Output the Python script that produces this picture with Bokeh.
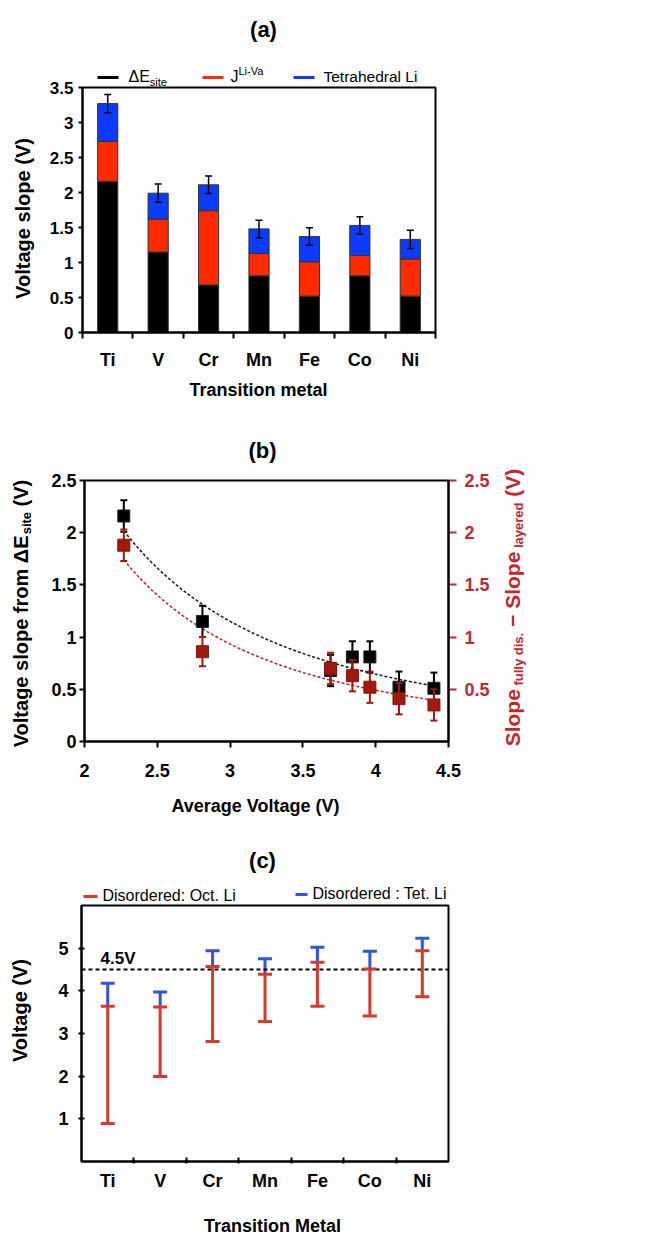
import numpy as np
from bokeh.plotting import figure
from bokeh.layouts import column
from bokeh.models import (Label, BoxAnnotation, FixedTicker, NumeralTickFormatter,
                          LinearAxis, Range1d)
from bokeh.embed import file_html
from bokeh.resources import INLINE

# ---------------- data ----------------
metals = ["Ti", "V", "Cr", "Mn", "Fe", "Co", "Ni"]
# panel (a): stacked contributions to the voltage slope (V)
dE_site = [2.16, 1.15, 0.68, 0.81, 0.52, 0.81, 0.52]
J_liva = [0.57, 0.47, 1.06, 0.32, 0.49, 0.29, 0.53]
tet_li = [0.54, 0.37, 0.37, 0.35, 0.36, 0.43, 0.28]
err_a = [0.13, 0.13, 0.125, 0.125, 0.125, 0.125, 0.13]
yticks_a = [0, 0.5, 1, 1.5, 2, 2.5, 3, 3.5]

# panel (b)
avg_voltage = [2.27, 2.81, 3.69, 3.84, 3.96, 4.16, 4.40]
slope_dE = [2.16, 1.15, 0.68, 0.81, 0.81, 0.52, 0.51]
slope_diff = [1.88, 0.86, 0.70, 0.63, 0.52, 0.41, 0.35]
err_b_black = [0.15, 0.15, 0.15, 0.15, 0.15, 0.15, 0.15]
err_b_red = [0.15, 0.14, 0.15, 0.15, 0.15, 0.15, 0.15]
xticks_b = [2, 2.5, 3, 3.5, 4, 4.5]
yticks_b = [0, 0.5, 1, 1.5, 2, 2.5]
yticks_b_right = [0.5, 1, 1.5, 2, 2.5]

# panel (c): voltage ranges (V)
oct_low = [0.89, 1.99, 2.81, 3.28, 3.64, 3.41, 3.86]
oct_high = [3.64, 3.62, 4.57, 4.39, 4.67, 4.51, 4.94]
tet_high = [4.18, 3.97, 4.94, 4.75, 5.02, 4.93, 5.23]
yticks_c = [1, 2, 3, 4, 5]
limit_c = 4.5

# ---------------- helpers ----------------
FONT = "Liberation Sans"
W = 651
BW = {' ': .278, '(': .333, ')': .333, '.': .278, '-': .333, ':': .333, '−': .584,
      'A': .722, 'D': .722, 'E': .667, 'J': .556, 'L': .611, 'M': .833, 'O': .778,
      'S': .667, 'T': .611, 'V': .667, 'a': .556, 'c': .556, 'd': .611, 'e': .556,
      'f': .333, 'g': .611, 'h': .611, 'i': .278, 'l': .278, 'm': .889, 'n': .611,
      'o': .611, 'p': .611, 'r': .389, 's': .556, 't': .333, 'u': .611, 'v': .556,
      'y': .556, 'Δ': .70}
RW = {' ': .278, '(': .333, ')': .333, '.': .278, '-': .333, ':': .278, 'D': .722,
      'E': .667, 'J': .5, 'L': .556, 'O': .778, 'T': .611, 'V': .667, 'a': .556,
      'c': .5, 'd': .556, 'e': .556, 'h': .556, 'i': .222, 'l': .222, 'r': .333,
      's': .5, 't': .278, 'Δ': .668}
BASE_FIX = 0.3   # renderer draws "alphabetic" text about 0.3 em lower than asked


def tw(s, size, bold):
    t = BW if bold else RW
    return sum(t.get(c, .556) for c in s) * size


def span_range(d0, d1, p0, p1, total):
    """range whose values d0..d1 land on pixels p0..p1 of a canvas 'total' long"""
    k = (p1 - p0) / (d1 - d0)
    return Range1d(d0 - p0 / k, d0 + (total - p0) / k)


class Panel:
    def __init__(self, top, height, box, xlim, ylim):
        self.T, self.H = top, height
        left, right, btop, bbot = box
        xr = span_range(xlim[0], xlim[1], left, right, W)
        yr = span_range(ylim[0], ylim[1], top + height - bbot, top + height - btop, height)
        self.yr = yr
        p = figure(width=W, height=height, x_range=xr, y_range=yr, output_backend="svg",
                   toolbar_location=None, x_axis_location=None, y_axis_location=None,
                   min_border=0, min_border_left=0, min_border_right=0,
                   min_border_top=0, min_border_bottom=0)
        p.outline_line_color = None
        p.grid.visible = False
        p.background_fill_color = "white"
        p.border_fill_color = "white"
        p.add_layout(BoxAnnotation(left=xlim[0], right=xlim[1], bottom=ylim[0], top=ylim[1],
                                   fill_alpha=0, fill_color=None, line_color="black",
                                   line_width=2, line_alpha=1, level="overlay"))
        self.p = p

    def put(self, px, py, text, size, bold=True, color="black", angle=0, align="left"):
        if angle:
            px -= BASE_FIX * size
        else:
            py -= BASE_FIX * size
        self.p.add_layout(Label(x=px, y=self.T + self.H - py, x_units="screen", y_units="screen",
                                text=text, text_font=FONT, text_font_size=f"{size}px",
                                text_font_style="bold" if bold else "normal", text_color=color,
                                angle=angle, text_align=align, text_baseline="alphabetic"))

    def put_h(self, x0, base, pieces, bold, color="black"):
        x = x0
        for txt, size, shift in pieces:
            lead = len(txt) - len(txt.lstrip(' '))
            self.put(x + tw(' ' * lead, size, bold), base + shift, txt.strip(' '), size, bold, color)
            x += tw(txt, size, bold)

    def put_v(self, basex, ycenter, pieces, bold, color="black"):
        total = sum(tw(t, s, bold) for t, s, _ in pieces)
        y = ycenter + total / 2
        for txt, size, shift in pieces:
            lead = len(txt) - len(txt.lstrip(' '))
            self.put(basex + shift, y - tw(' ' * lead, size, bold), txt.strip(' '), size, bold,
                     color, angle=np.pi / 2)
            y -= tw(txt, size, bold)

    def bar(self, x0, x1, yc, color, th=3):
        b = self.T + self.H
        self.p.add_layout(BoxAnnotation(left=x0, right=x1, top=b - yc + th / 2, bottom=b - yc - th / 2,
                                        left_units="screen", right_units="screen",
                                        top_units="screen", bottom_units="screen",
                                        fill_color=color, fill_alpha=1, line_alpha=0,
                                        level="overlay"))

    def axis(self, side, loc, bounds, ticks, minor=None, overrides=None, fmt="0.[0]", size=18,
             color="black", line_color="black", t_in=0, t_out=0, m_in=0, m_out=0, standoff=8,
             y_range_name=None):
        kw = {}
        if y_range_name:
            kw["y_range_name"] = y_range_name
        ax = LinearAxis(fixed_location=loc, bounds=bounds, **kw)
        ax.ticker = FixedTicker(ticks=ticks, minor_ticks=minor or [])
        if overrides:
            ax.major_label_overrides = overrides
        else:
            ax.formatter = NumeralTickFormatter(format=fmt)
        ax.axis_line_width = 2
        ax.axis_line_color = line_color
        ax.major_tick_line_width = 2
        ax.major_tick_line_color = color
        ax.minor_tick_line_width = 2
        ax.minor_tick_line_color = color
        ax.major_tick_in, ax.major_tick_out = t_in, t_out
        ax.minor_tick_in, ax.minor_tick_out = m_in, m_out
        ax.major_label_text_font = FONT
        ax.major_label_text_font_style = "bold"
        ax.major_label_text_font_size = f"{size}px"
        ax.major_label_text_color = color
        ax.major_label_standoff = standoff
        ax.axis_label = None
        self.p.add_layout(ax, side)
        return ax


n = len(metals)
xc = [float(i) + 0.5 for i in range(n)]
labels_over = {x: m for x, m in zip(xc, metals)}

# ---------------- panel (a) ----------------
A = Panel(0, 410, (82, 435, 87, 332), (0, n), (0, 3.5))
p1 = A.p
top_black = np.array(dE_site)
top_red = top_black + np.array(J_liva)
top_blue = top_red + np.array(tet_li)
ea = np.array(err_a)
p1.vbar(x=xc, bottom=0, top=top_black, width=0.4, fill_color="black", line_color="#333333", line_width=1)
p1.vbar(x=xc, bottom=top_black, top=top_red, width=0.4, fill_color="#ff2a00", line_color="#333333", line_width=1)
p1.vbar(x=xc, bottom=top_red, top=top_blue, width=0.4, fill_color="#0a3cff", line_color="#333333", line_width=1)
p1.segment(x0=xc, y0=top_blue - ea, x1=xc, y1=top_blue + ea, line_color="black", line_width=1.5)
p1.scatter(x=xc + xc, y=list(top_blue - ea) + list(top_blue + ea), marker="dash", size=7,
           line_color="black", line_width=1.5)
A.axis("below", 0, (0, n), xc, minor=list(range(n + 1)), overrides=labels_over, size=18,
       m_out=6, standoff=11)
A.axis("left", 0, (0, 3.5), yticks_a, size=17, t_out=4, standoff=5)

A.put(263, 36, "(a)", 22, align="center")
A.put(258, 395, "Transition metal", 18, align="center")
A.put(28, 218, "Voltage slope (V)", 20, angle=np.pi / 2, align="center")
A.bar(97, 118, 77, "black")
A.bar(202, 223, 77, "#ff2a00")
A.bar(293, 314, 77, "#0a3cff")
A.put_h(128, 81, [("ΔE", 16, 0), ("site", 11, 4)], False)
A.put_h(230, 81, [("J", 16, 0), ("Li-Va", 11, -7)], False)
A.put_h(323, 81, [("Tetrahedral Li", 15.5, 0)], False)

# ---------------- panel (b) ----------------
B = Panel(410, 420, (84, 448, 480, 741), (2, 4.5), (0, 2.5))
p2 = B.p
p2.extra_y_ranges = {"right": Range1d(B.yr.start, B.yr.end)}
xb = np.array(avg_voltage)
yb = np.array(slope_dE)
yr_ = np.array(slope_diff)
eb = np.array(err_b_black)
er = np.array(err_b_red)


def power_fit(x, y):
    b, lna = np.polyfit(np.log(x), np.log(y), 1)
    xx = np.linspace(x.min(), x.max(), 80)
    return xx, np.exp(lna) * xx ** b


RED_B = "#9e1a0c"
fx, fy = power_fit(xb, yb)
p2.line(fx, fy, line_color="#222222", line_width=1.6, line_dash="3 2")
fx2, fy2 = power_fit(xb, yr_)
p2.line(fx2, fy2, line_color="#b5302a", line_width=1.6, line_dash="3 2", y_range_name="right")
p2.segment(x0=xb, y0=yb - eb, x1=xb, y1=yb + eb, line_color="black", line_width=2)
p2.scatter(x=list(xb) + list(xb), y=list(yb - eb) + list(yb + eb), marker="dash", size=7,
           line_color="black", line_width=2)
p2.scatter(x=xb, y=yb, marker="square", size=12, fill_color="black", line_color="#222222")
p2.segment(x0=xb, y0=yr_ - er, x1=xb, y1=yr_ + er, line_color=RED_B, line_width=2,
           y_range_name="right")
p2.scatter(x=list(xb) + list(xb), y=list(yr_ - er) + list(yr_ + er), marker="dash", size=7,
           line_color=RED_B, line_width=2, y_range_name="right")
p2.scatter(x=xb, y=yr_, marker="square", size=12, fill_color=RED_B, line_color="#8a1508",
           y_range_name="right")

RED_AX = "#c1272d"
B.axis("below", 0, (2, 4.5), xticks_b, size=18, t_out=6, standoff=16)
B.axis("left", 2, (0, 2.5), yticks_b, size=18, t_out=5, standoff=3)
B.axis("right", 4.5, (0, 2.5), yticks_b_right, size=18, color=RED_AX, t_out=8, standoff=8,
       y_range_name="right")

B.put(262, 457, "(b)", 22, align="center")
B.put(255, 811, "Average Voltage (V)", 18, align="center")
B.put_v(26, 613, [("Voltage slope from ΔE", 20, 0), ("site", 13, 4), (" (V)", 20, 0)], True)
B.put_v(518, 607, [("Slope", 21, 0), (" fully dis.", 13, 4), (" − Slope", 21, 0),
                   (" layered", 13, 4), (" (V)", 21, 0)], True, RED_AX)

# ---------------- panel (c) ----------------
RED_C = "#d8392b"
BLUE_C = "#2f55e8"
C = Panel(830, 408, (81, 448, 905, 1161), (0, n), (0, 6))
p3 = C.p
p3.segment(x0=xc, y0=oct_high, x1=xc, y1=tet_high, line_color=BLUE_C, line_width=3)
p3.scatter(x=xc, y=tet_high, marker="dash", size=14, line_color=BLUE_C, line_width=3)
p3.segment(x0=[0], y0=[limit_c], x1=[n], y1=[limit_c], line_color="black", line_width=2,
           line_dash="4 3")
p3.segment(x0=xc, y0=oct_low, x1=xc, y1=oct_high, line_color=RED_C, line_width=3)
p3.scatter(x=xc + xc, y=oct_low + oct_high, marker="dash", size=14, line_color=RED_C, line_width=3)
C.axis("below", 0, (0, n), xc, minor=list(range(1, n)), overrides=labels_over, size=18,
       m_in=4, m_out=2, standoff=7)
C.axis("left", 0, (0, 6), yticks_c, fmt="0", size=18, t_in=3, t_out=3, standoff=10)

C.put(262, 867, "(c)", 22, align="center")
C.put(100, 963, "4.5V", 17)
C.put(272, 1231, "Transition Metal", 18, align="center")
C.put(25, 1010, "Voltage (V)", 20, angle=np.pi / 2, align="center")
C.bar(83, 97, 896, RED_C)
C.bar(295, 307, 894, BLUE_C)
C.put_h(102, 900, [("Disordered: Oct. Li", 16, 0)], False)
C.put_h(312, 898, [("Disordered : Tet. Li", 16, 0)], False)

layout = column(p1, p2, p3, spacing=0)
open("out.html", "w").write(file_html(layout, INLINE))
